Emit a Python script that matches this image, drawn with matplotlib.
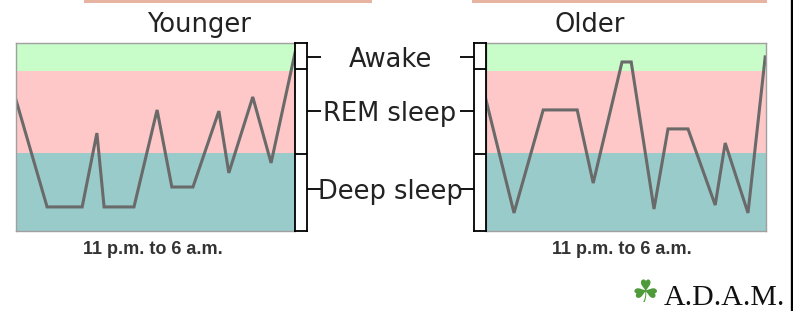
"""
Sleep stage hypnograms, younger vs older adult, 11 p.m. to 6 a.m.
"""

import matplotlib.pyplot as plt
from matplotlib.lines import Line2D

W, H = 793, 311

# hours after 11 p.m. and a 0-100 "lightness of sleep" level
young_hours = [0, 0.78, 1.66, 2.03, 2.21, 2.96, 3.54, 3.91, 4.44, 5.09, 5.34, 5.94, 6.40, 7.0]
young_level = [69.7, 12.8, 12.8, 52.1, 12.8, 12.8, 64.4, 23.4, 23.4, 63.8, 30.9, 71.3, 36.2, 94.7]

older_hours = [0, 0.70, 1.43, 2.28, 2.68, 3.40, 3.63, 4.20, 4.55, 5.05, 5.73, 5.98, 6.55, 6.98]
older_level = [69.7, 9.6, 64.4, 64.4, 25.5, 89.9, 89.9, 11.7, 54.3, 54.3, 13.8, 46.8, 9.6, 92.6]

stage_names = ["Deep sleep", "REM sleep", "Awake"]
band_edges = [0, 41.5, 85.1, 100]
strip_edges = [0, 41.0, 86.2, 100]
stage_ticks = [22.3, 63.8, 92.6]
band_colors = ["#99cbcb", "#ffc8c8", "#c8fcc8"]

x_label = "11 p.m. to 6 a.m."


def px_axes(fig, x0, y0, x1, y1):
    """Axes from pixel box (top-left origin)."""
    return fig.add_axes([x0 / W, 1 - y1 / H, (x1 - x0) / W, (y1 - y0) / H])


def draw_panel(ax, hours, level):
    for lo, hi, c in zip(band_edges[:-1], band_edges[1:], band_colors):
        ax.axhspan(lo, hi, color=c, lw=0, zorder=0)
    ax.plot(hours, level, color="#6a6a6a", lw=2.2, solid_joinstyle="miter", zorder=2)
    ax.set_xlim(0, 7)
    ax.set_ylim(0, 100)
    ax.set_xticks([])
    ax.set_yticks([])
    for s in ax.spines.values():
        s.set_color("#a0a0a0")
        s.set_linewidth(1.0)


def draw_strip(ax, side):
    ax.set_xlim(0, 1)
    ax.set_ylim(0, 100)
    ax.set_xticks([])
    for y in strip_edges[1:-1]:
        ax.axhline(y, color="black", lw=1.3)
    for s in ax.spines.values():
        s.set_color("black")
        s.set_linewidth(1.3)
    ax.yaxis.set_ticks_position(side)
    ax.set_yticks(stage_ticks)
    ax.set_yticklabels([])
    ax.tick_params(axis="y", direction="out", length=10, width=1.3, color="black")


fig = plt.figure(figsize=(W / 100, H / 100), dpi=100)

ax_y = px_axes(fig, 16, 43, 295, 231)
ax_o = px_axes(fig, 486, 43, 766, 231)
draw_panel(ax_y, young_hours, young_level)
draw_panel(ax_o, older_hours, older_level)

st_y = px_axes(fig, 295, 43, 307, 231)
st_o = px_axes(fig, 474, 43, 486, 231)
draw_strip(st_y, "right")
draw_strip(st_o, "left")

title_kw = dict(fontsize=18.5, color="#222222", ha="center", va="baseline",
                family="DejaVu Sans")
fig.text(199 / W, 1 - 32 / H, "Younger", **title_kw)
fig.text(590 / W, 1 - 32 / H, "Older", **title_kw)

# stage labels between the two panels, aligned to the strip ticks
tr = st_y.transData
for name, yv in zip(stage_names, stage_ticks):
    _, ypix = tr.transform((0, yv))
    fig.text(390 / W, ypix / fig.bbox.height, name, fontsize=18.5,
             color="#222222", ha="center", va="center_baseline",
             family="DejaVu Sans")

lab_kw = dict(fontsize=13, color="#333333", ha="center", va="center",
              family="Liberation Sans", fontweight="bold")
fig.text(153 / W, 1 - 250 / H, x_label, **lab_kw)
fig.text(622 / W, 1 - 250 / H, x_label, **lab_kw)

# decorative bits: cut-off boxes at the top, right border, logo
for x0, x1 in [(85, 370), (473, 765)]:
    fig.add_artist(Line2D([x0 / W, x1 / W], [1 - 1.2 / H] * 2, color="#e6b4a0", lw=2.2))
fig.add_artist(Line2D([791.5 / W] * 2, [0, 1], color="black", lw=2.4))

fig.text(645 / W, 1 - 293 / H, "\u2618", fontsize=22, color="#4f9a3a",
         ha="center", va="center", family="DejaVu Sans")
fig.text(664 / W, 1 - 305 / H, "A.D.A.M.", fontsize=21.5, color="#111111",
         ha="left", va="baseline", family="Liberation Serif")

fig.savefig("out.png", dpi=100)
